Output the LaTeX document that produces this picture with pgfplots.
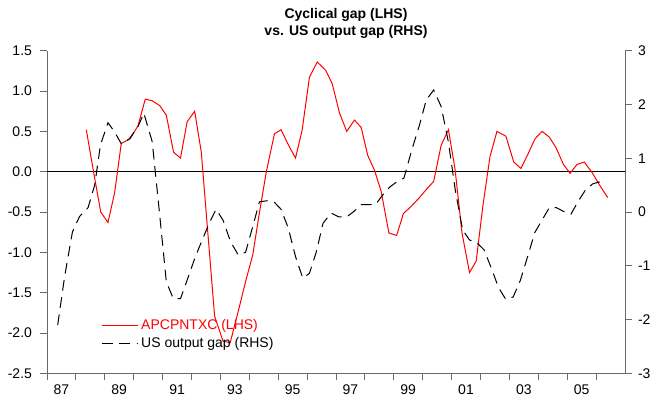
\documentclass[border=0pt]{standalone}
\usepackage{pgfplots}
\pgfplotsset{compat=1.18}
\usepackage{fontspec}
\setmainfont{Liberation Sans}

\definecolor{axgray}{RGB}{105,105,105}

% cyclical gap, LHS
\pgfplotstableread{
x y
1988.36 0.52
1988.61 0.00
1988.86 -0.50
1989.11 -0.63
1989.34 -0.26
1989.57 0.35
1989.88 0.41
1990.15 0.57
1990.40 0.90
1990.64 0.88
1990.90 0.82
1991.13 0.70
1991.38 0.24
1991.62 0.17
1991.85 0.62
1992.11 0.75
1992.34 0.24
1992.57 -0.78
1992.80 -1.79
1993.09 -2.10
1993.34 -2.12
1993.66 -1.67
1993.88 -1.35
1994.12 -1.03
1994.35 -0.51
1994.59 0.00
1994.87 0.47
1995.10 0.52
1995.37 0.32
1995.60 0.17
1995.83 0.52
1996.08 1.17
1996.35 1.36
1996.64 1.26
1996.87 1.09
1997.12 0.73
1997.37 0.50
1997.64 0.64
1997.87 0.55
1998.10 0.20
1998.33 0.02
1998.56 -0.24
1998.83 -0.76
1999.10 -0.79
1999.33 -0.52
1999.60 -0.43
1999.89 -0.32
2000.15 -0.21
2000.38 -0.12
2000.64 0.33
2000.89 0.52
2001.12 0.03
2001.36 -0.76
2001.62 -1.25
2001.85 -1.11
2002.08 -0.43
2002.33 0.19
2002.57 0.50
2002.88 0.44
2003.15 0.12
2003.40 0.04
2003.63 0.21
2003.89 0.41
2004.13 0.50
2004.38 0.43
2004.61 0.30
2004.87 0.09
2005.10 -0.02
2005.34 0.09
2005.59 0.12
2005.86 -0.01
2006.11 -0.16
2006.40 -0.32
}\gaptable

% US output gap, RHS
\pgfplotstableread{
x y
1987.37 -2.10
1987.61 -1.20
1987.88 -0.37
1988.13 -0.08
1988.42 0.08
1988.65 0.50
1988.85 1.25
1989.11 1.66
1989.34 1.49
1989.57 1.27
1989.85 1.36
1990.15 1.59
1990.35 1.84
1990.64 1.31
1990.88 0.05
1991.13 -1.30
1991.37 -1.61
1991.62 -1.61
1991.88 -1.22
1992.12 -0.85
1992.37 -0.52
1992.62 -0.20
1992.85 0.05
1993.09 -0.15
1993.35 -0.55
1993.62 -0.80
1993.87 -0.75
1994.12 -0.27
1994.35 0.19
1994.62 0.21
1994.87 0.18
1995.10 0.05
1995.35 -0.30
1995.60 -0.83
1995.85 -1.23
1996.08 -1.14
1996.32 -0.74
1996.55 -0.21
1996.83 -0.02
1997.10 -0.09
1997.37 -0.09
1997.62 0.01
1997.87 0.14
1998.12 0.14
1998.37 0.14
1998.62 0.32
1998.87 0.47
1999.10 0.56
1999.35 0.63
1999.62 1.15
1999.89 1.62
2000.12 2.08
2000.38 2.27
2000.64 1.96
2000.89 1.30
2001.13 0.40
2001.38 -0.33
2001.62 -0.52
2001.87 -0.57
2002.12 -0.70
2002.38 -1.05
2002.62 -1.40
2002.87 -1.62
2003.13 -1.58
2003.38 -1.27
2003.63 -0.83
2003.88 -0.38
2004.13 -0.15
2004.38 0.08
2004.63 0.08
2004.88 0.01
2005.13 -0.04
2005.38 0.20
2005.62 0.40
2005.87 0.52
2006.10 0.56
2006.22 0.44
}\usgaptable

\begin{document}
\begin{tikzpicture}
\path[use as bounding box] (0,0) rectangle (488.25pt,300pt);
\pgfplotsset{
  every axis/.append style={
    scale only axis,
    width=433.5pt, height=241.95pt,
    at={(35.25pt,20pt)}, anchor=south west,
    xmin=1987, xmax=2007,
    font=\fontsize{10.5}{12}\selectfont,
    axis line style={axgray, line width=0.6pt, -},
    tick style={axgray, line width=0.6pt},
    tick align=outside,
    major tick length=5.25pt,
  }
}
\begin{axis}[
  ymin=-2.5, ymax=1.5,
  axis x line*=bottom, axis y line*=left,
  ytick={-2.5,-2,...,1.5},
  yticklabels={-2.5,-2.0,-1.5,-1.0,-0.5,0.0,0.5,1.0,1.5},
  yticklabel style={xshift=-2.5pt},
  xtick={1987,...,2006},
  xticklabels={87,,89,,91,,93,,95,,97,,99,,01,,03,,05,},
  xticklabel style={xshift=10.84pt, yshift=0.5pt},
  legend style={draw=none, fill=none, at={(axis description cs:0.087,0.12)},
    anchor=west, font=\fontsize{10.5}{12}\selectfont, row sep=0pt},
  legend cell align=left,
  legend image code/.code={\draw[#1] (0pt,0pt) -- (27pt,0pt);},
]
\draw[black, line width=0.75pt] ([xshift=-5.25pt]axis cs:1987,0) -- (axis cs:2007,0);
\addplot[red, line width=0.75pt] table[x=x, y=y] {\gaptable};
\addlegendentry{\textcolor{red}{APCPNTXC (LHS)}}
\addlegendimage{black, line width=0.75pt, dash pattern=on 8pt off 5pt}
\addlegendentry{US output gap (RHS)}
\end{axis}
\begin{axis}[
  ymin=-3, ymax=3,
  axis x line=none, axis y line*=right,
  xtick=\empty,
  ytick={-3,...,3},
  yticklabels={-3,-2,-1,0,1,2,3},
  yticklabel style={xshift=1pt},
]
\addplot[black, line width=0.75pt, dash pattern=on 8pt off 5pt] table[x=x, y=y] {\usgaptable};
\end{axis}
\node[anchor=base, font=\bfseries\fontsize{10.5}{12}\selectfont] at (259.5pt,285.75pt) {Cyclical gap (LHS)};
\node[anchor=base, font=\bfseries\fontsize{10.5}{12}\selectfont] at (259.5pt,273pt) {vs. US output gap (RHS)};
\end{tikzpicture}
\end{document}
